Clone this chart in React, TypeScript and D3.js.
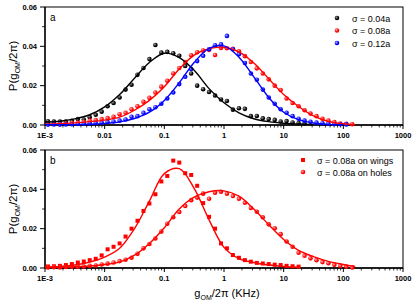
import React from "react"
import * as d3 from "d3"

// bin centres (KHz), log spaced, shared by every measured series
const bins = [
  0.00112, 0.00141, 0.00178, 0.00224, 0.00282, 0.00355, 0.00447, 0.00562, 0.00708, 0.00891,
  0.0112, 0.0141, 0.0178, 0.0224, 0.0282, 0.0355, 0.0447, 0.0562, 0.0708, 0.0891,
  0.112, 0.141, 0.178, 0.224, 0.282, 0.355, 0.447, 0.562, 0.708, 0.891,
  1.12, 1.41, 1.78, 2.24, 2.82, 3.55, 4.47, 5.62, 7.08, 8.91,
  11.2, 14.1, 17.8, 22.4, 28.2, 35.5, 44.7, 56.2, 70.8, 89.1,
  112, 141,
]

// panel a measured points
const sigma004 = [
  0.0019, 0.0017, 0.0018, 0.0017, 0.0021, 0.0030, 0.0028, 0.0040, 0.0052, 0.0068,
  0.0095, 0.0112, 0.0140, 0.0180, 0.0205, 0.0255, 0.0290, 0.0335, 0.0407, 0.0368,
  0.0372, 0.0365, 0.0352, 0.0300, 0.0262, 0.0200, 0.0182, 0.0168, 0.0150, 0.0130,
  0.0122, 0.0078, 0.0085, 0.0082, 0.0045, 0.0046, 0.0034, 0.0030, 0.0026, 0.0018,
  0.0020, 0.0013, 0.0010, 0.0008,
]
const sigma008 = [
  0.0006, 0.0005, 0.0008, 0.0007, 0.0010, 0.0012, 0.0015, 0.0022, 0.0025, 0.0030,
  0.0035, 0.0042, 0.0055, 0.0062, 0.0080, 0.0095, 0.0118, 0.0138, 0.0165, 0.0195,
  0.0225, 0.0262, 0.0290, 0.0320, 0.0355, 0.0370, 0.0378, 0.0382, 0.0356, 0.0392,
  0.0390, 0.0388, 0.0375, 0.0350, 0.0320, 0.0288, 0.0262, 0.0232, 0.0200, 0.0178,
  0.0135, 0.0112, 0.0095, 0.0075, 0.0058, 0.0045, 0.0032, 0.0022, 0.0015, 0.0008,
  0.0006, 0.0004,
]
const sigma012 = [
  0.0002, 0.0003, 0.0002, 0.0003, 0.0004, 0.0005, 0.0006, 0.0008, 0.0010, 0.0012,
  0.0015, 0.0018, 0.0022, 0.0028, 0.0042, 0.0045, 0.0062, 0.0080, 0.0090, 0.0108,
  0.0135, 0.0165, 0.0208, 0.0245, 0.0285, 0.0325, 0.0352, 0.0385, 0.0405, 0.0410,
  0.0453, 0.0385, 0.0360, 0.0315, 0.0262, 0.0230, 0.0180, 0.0140, 0.0108, 0.0080,
  0.0062, 0.0045, 0.0032, 0.0022, 0.0016, 0.0012, 0.0009, 0.0006, 0.0005, 0.0004,
  0.0003,
]

// panel b measured points
const onWings = [
  0.0008, 0.0009, 0.0011, 0.0015, 0.0020, 0.0028, 0.0033, 0.0040, 0.0047, 0.0064,
  0.0095, 0.0108, 0.0125, 0.0160, 0.0200, 0.0240, 0.0290, 0.0328, 0.0375, 0.0440,
  0.0468, 0.0546, 0.0536, 0.0482, 0.0473, 0.0418, 0.0330, 0.0260, 0.0200, 0.0125,
  0.0100, 0.0066, 0.0052, 0.0040, 0.0032, 0.0026, 0.0023, 0.0020, 0.0017, 0.0015,
  0.0011, 0.0009, 0.0007,
]
const onHoles = [
  0.0003, 0.0004, 0.0003, 0.0005, 0.0006, 0.0006, 0.0008, 0.0011, 0.0013, 0.0018,
  0.0022, 0.0028, 0.0035, 0.0042, 0.0052, 0.0072, 0.0100, 0.0122, 0.0150, 0.0185,
  0.0225, 0.0258, 0.0285, 0.0315, 0.0345, 0.0358, 0.0378, 0.0352, 0.0383, 0.0388,
  0.0378, 0.0366, 0.0352, 0.0332, 0.0305, 0.0286, 0.0258, 0.0222, 0.0202, 0.0172,
  0.0135, 0.0108, 0.0078, 0.0062, 0.0049, 0.0040, 0.0030, 0.0024, 0.0016, 0.0011,
  0.0007, 0.0003,
]

// fitted curves, read at quarter decades
const fitX = [
  0.001, 0.00178, 0.00316, 0.00562, 0.01, 0.0178, 0.0316, 0.0562, 0.1, 0.178,
  0.316, 0.562, 1, 1.78, 3.16, 5.62, 10, 17.8, 31.6, 56.2, 100, 158,
]
const fit004 = [
  0.0015, 0.0019, 0.0031, 0.0052, 0.0092, 0.0155, 0.0238, 0.0318, 0.0365, 0.0343,
  0.0278, 0.0185, 0.0113, 0.0062, 0.0032, 0.0017, 0.0009, 0.0005, 0.0002,
]
const fit008 = [
  0.0004, 0.0007, 0.0011, 0.0017, 0.0025, 0.0040, 0.0075, 0.0125, 0.0195, 0.0285,
  0.0355, 0.0388, 0.0395, 0.0372, 0.0315, 0.0235, 0.0155, 0.0094, 0.0046, 0.0018,
  0.0006, 0.0002,
]
const fit012 = [
  0.0001, 0.0001, 0.0002, 0.0004, 0.0008, 0.0016, 0.0033, 0.0065, 0.0125, 0.0215,
  0.0318, 0.0390, 0.0402, 0.0345, 0.0245, 0.0140, 0.0065, 0.0027, 0.0010, 0.0003,
  0.0001,
]
const fitWings = [
  0.0005, 0.0008, 0.0015, 0.0030, 0.0055, 0.0100, 0.0200, 0.0340, 0.0480, 0.0505,
  0.0405, 0.0245, 0.0105, 0.0048, 0.0028, 0.0015, 0.0008, 0.0004,
]
const fitHoles = [
  0.0003, 0.0004, 0.0006, 0.0010, 0.0018, 0.0030, 0.0065, 0.0125, 0.0205, 0.0300,
  0.0360, 0.0388, 0.0392, 0.0365, 0.0300, 0.0220, 0.0145, 0.0090, 0.0058, 0.0034,
  0.0018, 0.0008,
]

const xTicks = [0.001, 0.01, 0.1, 1, 10, 100, 1000]
const xTickLabels = ["1E-3", "0.01", "0.1", "1", "10", "100", "1000"]
const yTicks = [0, 0.02, 0.04, 0.06]
const yMinor = [0.01, 0.03, 0.05]

const legendA = ["\u03c3 = 0.04a", "\u03c3 = 0.08a", "\u03c3 = 0.12a"]
const legendB = ["\u03c3 = 0.08a on wings", "\u03c3 = 0.08a on holes"]

const font = "'Liberation Sans', Arial, sans-serif"
const left = 45
const right = 403

const x = d3.scaleLog().domain([1e-3, 1e3]).range([left, right])
const minorX: number[] = []
for (let e = -3; e < 3; e++) for (let m = 2; m < 10; m++) minorX.push(m * Math.pow(10, e))

function Dot({ cx, cy, color }: { cx: number; cy: number; color: string }) {
  return <circle cx={cx} cy={cy} r={2.3} fill={`url(#g-${color.slice(1)})`} />
}

function Panel({ top, bottom, label, children }: any) {
  const y = d3.scaleLinear().domain([0, 0.06]).range([bottom, top])
  return (
    <g>
      <rect x={left} y={top} width={right - left} height={bottom - top} fill="none" stroke="#000" strokeWidth={1} />
      <line x1={left} x2={right} y1={bottom} y2={bottom} stroke="#000" strokeWidth={1.3} />
      <line x1={left} x2={left} y1={top} y2={bottom} stroke="#000" strokeWidth={1.3} />
      {xTicks.map((t, i) => (
        <g key={t}>
          <line x1={x(t)} x2={x(t)} y1={bottom} y2={bottom + 4} stroke="#000" />
          <text x={x(t)} y={bottom + 13} textAnchor="middle" fontSize={7.5} fontWeight="bold" fontFamily={font}>
            {xTickLabels[i]}
          </text>
        </g>
      ))}
      {minorX.map(t => (
        <line key={t} x1={x(t)} x2={x(t)} y1={bottom} y2={bottom + 2.5} stroke="#000" strokeWidth={0.8} />
      ))}
      {yTicks.map(t => (
        <g key={t}>
          <line x1={left - 5} x2={left} y1={y(t)} y2={y(t)} stroke="#000" />
          <text x={left - 8} y={y(t) + 2.6} textAnchor="end" fontSize={7.5} fontWeight="bold" fontFamily={font}>
            {t.toFixed(2)}
          </text>
        </g>
      ))}
      {yMinor.map(t => (
        <line key={t} x1={left - 3} x2={left} y1={y(t)} y2={y(t)} stroke="#000" strokeWidth={0.8} />
      ))}
      <text x={50} y={top + 14} fontSize={10} fontFamily={font}>{label}</text>
      <text transform={`translate(17,${(top + bottom) / 2}) rotate(-90)`} textAnchor="middle" fontSize={11.5} fontFamily={font}>
        P(g<tspan fontSize={7} dy={2.5}>OM</tspan><tspan dy={-2.5}>{"/2\u03c0)"}</tspan>
      </text>
      {children(y)}
    </g>
  )
}

function fitPath(xs: number[], ys: number[], y: any) {
  const line = d3
    .line<number>()
    .x((_, i) => x(xs[i]))
    .y(d => y(d))
    .curve(d3.curveCatmullRom.alpha(0.5))
  return line(ys) || ""
}

export default function App() {
  const seriesA = [
    { vals: sigma004, fit: fit004, color: "#000000" },
    { vals: sigma008, fit: fit008, color: "#ff0000" },
    { vals: sigma012, fit: fit012, color: "#0000ff" },
  ]
  return (
    <svg width={415} height={303} style={{ position: "absolute", left: 0, top: 0, background: "#fff" }}>
      <defs>
        {["000000", "ff0000", "0000ff"].map(c => (
          <radialGradient key={c} id={`g-${c}`} cx="40%" cy="40%" r="60%" fx="35%" fy="35%">
            <stop offset="0%" stopColor={c === "000000" ? "#9a9a9a" : c === "ff0000" ? "#ffb0b0" : "#b0b0ff"} />
            <stop offset="70%" stopColor={`#${c}`} />
          </radialGradient>
        ))}
        <clipPath id="clipA"><rect x={left} y={7} width={right - left} height={118} /></clipPath>
        <clipPath id="clipB"><rect x={left} y={150} width={right - left} height={118} /></clipPath>
      </defs>
      <Panel top={7} bottom={125} label="a">
        {(y: any) => (
          <g>
            {seriesA.map(s => (
              <g key={s.color}>
                {s.vals.map((v, i) => <Dot key={i} cx={x(bins[i])} cy={y(v)} color={s.color} />)}
              </g>
            ))}
            {seriesA.map(s => (
              <path key={s.color} d={fitPath(fitX, s.fit, y)} fill="none" stroke={s.color} strokeWidth={1.4} clipPath="url(#clipA)" />
            ))}
            {legendA.map((t, i) => (
              <g key={t}>
                <Dot cx={337} cy={18 + i * 12.5} color={seriesA[i].color} />
                <text x={352} y={21.5 + i * 12.5} fontSize={9} fontFamily={font}>{t}</text>
              </g>
            ))}
          </g>
        )}
      </Panel>
      <Panel top={150} bottom={268} label="b">
        {(y: any) => (
          <g>
            {onWings.map((v, i) => (
              <rect key={i} x={x(bins[i]) - 2} y={y(v) - 2} width={4} height={4} fill="#ff0000" />
            ))}
            {onHoles.map((v, i) => <Dot key={i} cx={x(bins[i])} cy={y(v)} color="#ff0000" />)}
            <path d={fitPath(fitX, fitWings, y)} fill="none" stroke="#ff0000" strokeWidth={1.4} clipPath="url(#clipB)" />
            <path d={fitPath(fitX, fitHoles, y)} fill="none" stroke="#ff0000" strokeWidth={1.4} clipPath="url(#clipB)" />
            <rect x={301} y={158} width={4} height={4} fill="#ff0000" />
            <Dot cx={303} cy={172} color="#ff0000" />
            {legendB.map((t, i) => (
              <text key={t} x={317} y={163.5 + i * 12.5} fontSize={9} fontFamily={font}>{t}</text>
            ))}
          </g>
        )}
      </Panel>
      <text x={227} y={297} textAnchor="middle" fontSize={11} fontFamily={font}>
        g<tspan fontSize={7} dy={2.5}>OM</tspan><tspan dy={-2.5}>{"/2\u03c0 (KHz)"}</tspan>
      </text>
    </svg>
  )
}
